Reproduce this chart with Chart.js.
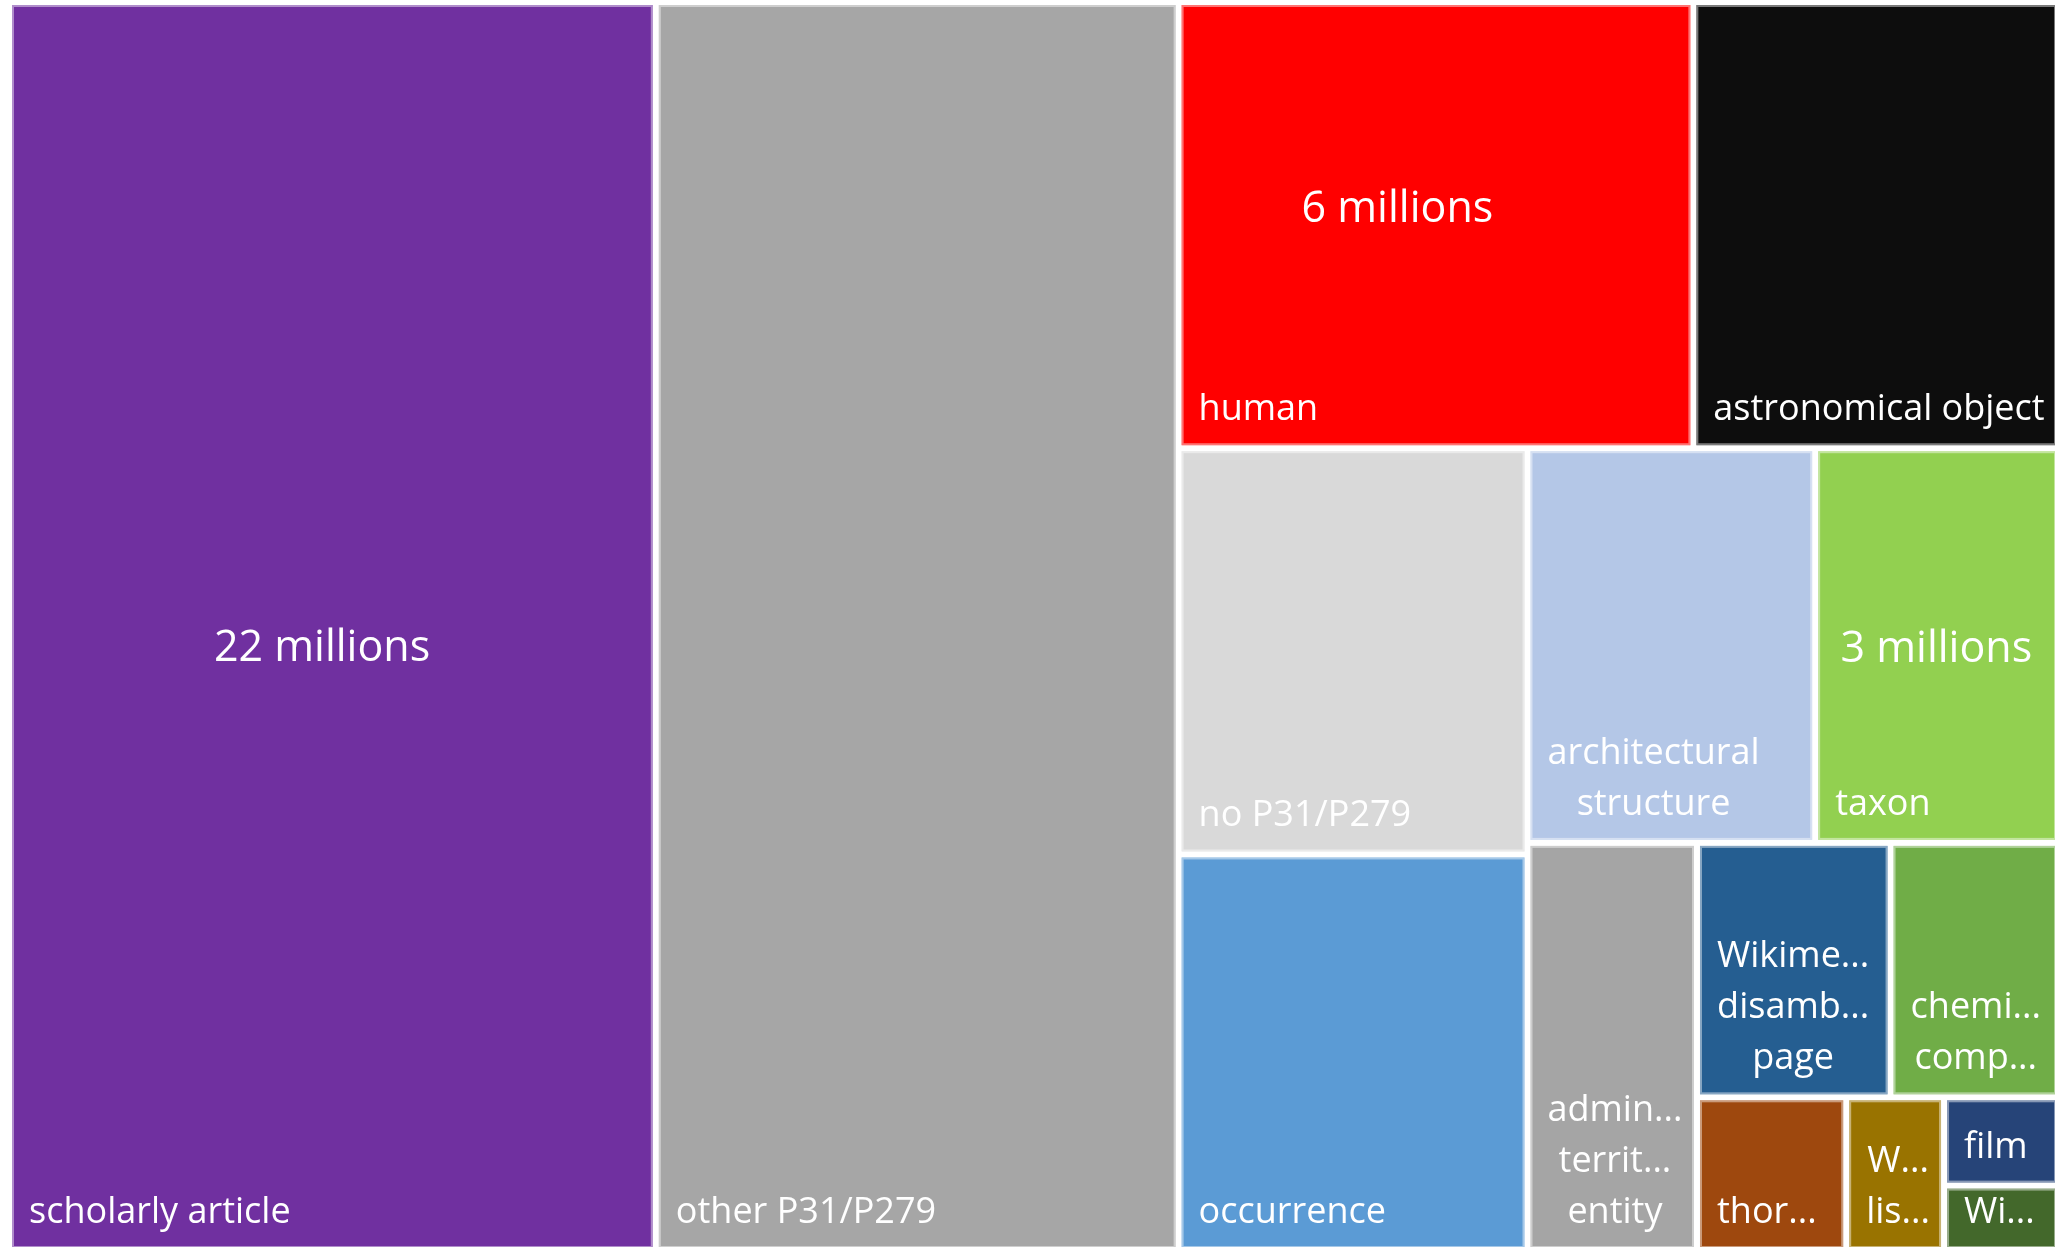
<!DOCTYPE html>
<html>
<head>
<meta charset="utf-8">
<script src="https://cdn.jsdelivr.net/npm/chart.js@4.4.1/dist/chart.umd.min.js"></script>
<style>
    html, body { margin: 0; padding: 0; background: #ffffff; overflow: hidden; }
    #area { position: absolute; left: 0; top: 0; width: 2059px; height: 1251px; }
</style>
</head>
<body>
<div id="area"><canvas id="chartTreemap" width="2059" height="1251"></canvas></div>
<script>
const rotulos = [
    ["scholarly article"],
    ["other P31/P279"],
    ["human"],
    ["astronomical object"],
    ["no P31/P279"],
    ["occurrence"],
    ["architectural", "structure"],
    ["taxon"],
    ["admin...", "territ...", "entity"],
    ["Wikime...", "disamb...", "page"],
    ["chemi...", "comp..."],
    ["thor..."],
    ["W...", "lis..."],
    ["film"],
    ["Wi..."]
];
const valores = [21.49, 17.37, 6.11, 4.34, 3.77, 3.68, 3.02, 2.56, 1.84, 1.31, 1.14, 0.61, 0.40, 0.27, 0.20];

// Quantos itens entram em cada faixa do layout
const faixas = [1, 1, 2, 2, 2, 1, 2, 1, 1, 1, 1];

// Rótulos de valor (índice da célula e texto)
const indicesValor = [0, 2, 7];
const textosValor = ["22 millions", "6 millions", "3 millions"];

// Cores no estilo do Excel
const cores = [
    "#7030A0", "#A6A6A6", "#FF0000", "#0D0D0D", "#D9D9D9",
    "#5B9BD5", "#B4C7E7", "#92D050", "#A5A5A5", "#255E91",
    "#70AD47", "#9E480E", "#997300", "#264478", "#43682B"
];

// Posição relativa dos rótulos de valor dentro da célula
const posicaoValor = [
    { fx: 0.484, fy: 0.528 },
    { fx: 0.425, fy: 0.493 },
    { fx: 0.497, fy: 0.541 }
];

const LARGURA = 2050;
const ALTURA = 1249;

// Layout em faixas: coluna se o espaço livre for mais largo, linha se for mais alto
function calcularLayout(vals, larg, alt, grupos) {
    const total = vals.reduce((a, b) => a + b, 0);
    const escala = (larg * alt) / total;
    let x = 0, y = 0, w = larg, h = alt, i = 0;
    const rects = [];
    grupos.forEach(n => {
        const grupo = vals.slice(i, i + n);
        const area = grupo.reduce((a, b) => a + b, 0) * escala;
        if (w >= h) {
            const cw = area / h;
            let cy = y;
            grupo.forEach(v => {
                const ch = v * escala / cw;
                rects.push({ x0: x, y0: cy, x1: x + cw, y1: cy + ch });
                cy += ch;
            });
            x += cw; w -= cw;
        } else {
            const rh = area / w;
            let cx = x;
            grupo.forEach(v => {
                const cw = v * escala / rh;
                rects.push({ x0: cx, y0: y, x1: cx + cw, y1: y + rh });
                cx += cw;
            });
            y += rh; h -= rh;
        }
        i += n;
    });
    return rects;
}

const celulas = calcularLayout(valores, LARGURA, ALTURA, faixas);

const pluginTreemap = {
    id: "treemap",
    beforeDatasetsDraw(chart) {
        const { ctx, scales: { x, y } } = chart;
        ctx.save();
        celulas.forEach((c, i) => {
            const bx0 = x.getPixelForValue(c.x0), bx1 = x.getPixelForValue(c.x1);
            const by0 = y.getPixelForValue(c.y0), by1 = y.getPixelForValue(c.y1);
            const px0 = bx0 + 3, px1 = bx1 - 3, py0 = by0 + 3, py1 = by1 - 3;

            ctx.fillStyle = cores[i];
            ctx.fillRect(px0, py0, px1 - px0, py1 - py0);
            ctx.strokeStyle = "rgba(255,255,255,0.45)";
            ctx.lineWidth = 2;
            ctx.strokeRect(px0 + 1, py0 + 1, px1 - px0 - 2, py1 - py0 - 2);

            // rótulo da categoria, alinhado embaixo à esquerda
            ctx.font = '36px "Open Sans"';
            ctx.fillStyle = "#ffffff";
            ctx.textAlign = "center";
            ctx.textBaseline = "alphabetic";
            const linhas = rotulos[i];
            const maxW = Math.max(...linhas.map(l => ctx.measureText(l).width));
            const cx = bx0 + 20 + maxW / 2;
            linhas.forEach((l, k) => {
                ctx.fillText(l, cx, by1 - 28 - (linhas.length - 1 - k) * 51);
            });
        });

        // rótulos de valor
        ctx.font = '43px "Open Sans"';
        ctx.textAlign = "center";
        ctx.fillStyle = "#ffffff";
        indicesValor.forEach((idx, k) => {
            const c = celulas[idx];
            const vx = c.x0 + (c.x1 - c.x0) * posicaoValor[k].fx;
            const vy = c.y0 + (c.y1 - c.y0) * posicaoValor[k].fy;
            ctx.fillText(textosValor[k], x.getPixelForValue(vx), y.getPixelForValue(vy));
        });
        ctx.restore();
    }
};

new Chart(document.getElementById("chartTreemap"), {
    type: "scatter",
    data: {
        datasets: [{
            data: celulas.map((c, i) => ({ x: (c.x0 + c.x1) / 2, y: (c.y0 + c.y1) / 2, v: valores[i] })),
            pointRadius: 0,
            pointHoverRadius: 0
        }]
    },
    options: {
        responsive: false,
        devicePixelRatio: 1,
        animation: false,
        layout: { padding: { left: 9, top: 2, right: 0, bottom: 0 } },
        plugins: {
            legend: { display: false },
            tooltip: { enabled: false }
        },
        scales: {
            x: { type: "linear", min: 0, max: LARGURA, display: false },
            y: { type: "linear", min: 0, max: ALTURA, reverse: true, display: false }
        }
    },
    plugins: [pluginTreemap]
});
</script>
</body>
</html>
